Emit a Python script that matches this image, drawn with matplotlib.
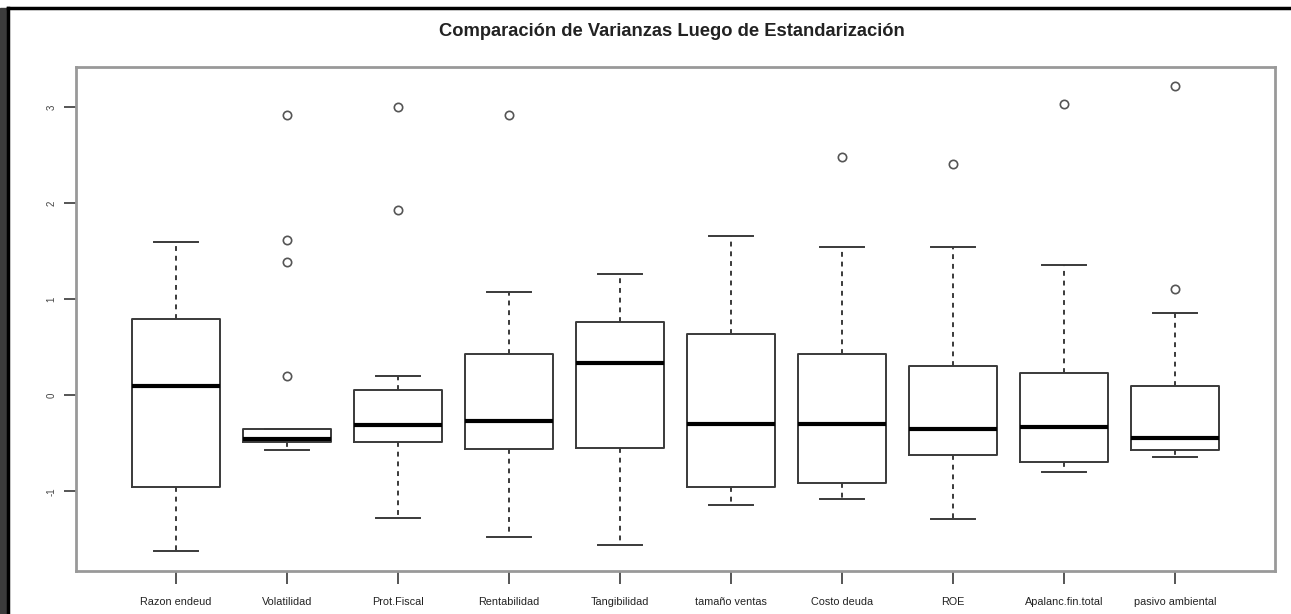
import matplotlib
matplotlib.use('Agg')
import matplotlib.pyplot as plt
from matplotlib.patches import Rectangle
from matplotlib.lines import Line2D

plt.rcParams['font.family'] = ['Liberation Sans', 'DejaVu Sans']

# five-number summaries per standardized variable
variables = ['Razon endeud', 'Volatilidad', 'Prot.Fiscal', 'Rentabilidad', 'Tangibilidad',
             'tamaño ventas', 'Costo deuda', 'ROE', 'Apalanc.fin.total', 'pasivo ambiental']
whisker_low = [-1.625, -0.57, -1.28, -1.48, -1.56, -1.14, -1.08, -1.29, -0.80, -0.64]
q1 = [-0.96, -0.49, -0.49, -0.56, -0.55, -0.95, -0.91, -0.62, -0.69, -0.57]
medians = [0.10, -0.45, -0.31, -0.27, 0.34, -0.30, -0.30, -0.35, -0.33, -0.44]
q3 = [0.79, -0.355, 0.06, 0.43, 0.76, 0.64, 0.43, 0.31, 0.23, 0.10]
whisker_high = [1.60, -0.355, 0.20, 1.08, 1.26, 1.66, 1.55, 1.55, 1.36, 0.86]
outliers = [[], [2.92, 1.62, 1.39, 0.20], [3.00, 1.93], [2.92], [], [],
            [2.48], [2.41], [3.03], [3.22, 1.11]]
yticks = [-1, 0, 1, 2, 3]

stats = []
for name, lo, a, m, b, hi, fl in zip(variables, whisker_low, q1, medians, q3, whisker_high, outliers):
    stats.append(dict(label=name, whislo=lo, q1=a, med=m, q3=b, whishi=hi, fliers=fl))

fig = plt.figure(figsize=(12.91, 6.14), dpi=100)
ax = fig.add_axes([76 / 1291, 1 - 571 / 614, (1275 - 76) / 1291, (571 - 67) / 614])

line_col = '#3a3a3a'
ax.bxp(stats, positions=range(1, len(variables) + 1), widths=0.8, capwidths=0.4,
       boxprops=dict(color=line_col, lw=1.4),
       whiskerprops=dict(color=line_col, lw=1.4, ls=(0, (2.5, 2.5))),
       capprops=dict(color=line_col, lw=1.4),
       medianprops=dict(color='black', lw=3),
       flierprops=dict(marker='o', mfc='none', mec='#555555', ms=6, mew=1.2))

ax.set_xlim(0.1, 10.9)
ax.set_ylim(-1.83, 3.42)
ax.set_yticks(yticks)
ax.set_yticklabels([str(t) for t in yticks], rotation=90, va='center', fontsize=7, color='#444444')
ax.set_xticklabels(variables, fontsize=7.8, color='#222222')
ax.tick_params(axis='y', length=9, width=1.4, color='#555555', pad=5)
ax.tick_params(axis='x', length=9, width=1.4, color='#555555', pad=10)
for s in ax.spines.values():
    s.set_color('#999999')
    s.set_linewidth(2)

fig.text(672 / 1291, 1 - 31 / 614, 'Comparación de Varianzas Luego de Estandarización',
         ha='center', va='center', fontsize=13.2, fontweight='bold', color='#222222')

# dark window frame on the left and top edges
fig.patches.append(Rectangle((0, 0), 7 / 1291, 1 - 8 / 614, transform=fig.transFigure,
                             color='#3c3c3c', zorder=0))
fig.lines.append(Line2D([8 / 1291, 8 / 1291], [0, 1 - 8 / 614], transform=fig.transFigure,
                        color='black', lw=2.5))
fig.lines.append(Line2D([8 / 1291, 1], [1 - 8 / 614, 1 - 8 / 614], transform=fig.transFigure,
                        color='black', lw=2.5))

fig.savefig('out.png', dpi=100)
